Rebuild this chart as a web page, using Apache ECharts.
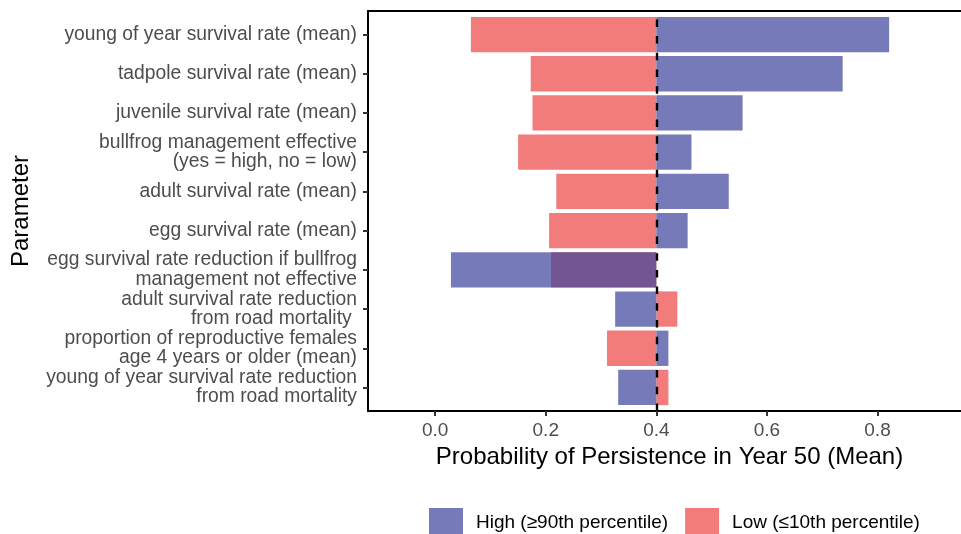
<!DOCTYPE html>
<html>
<head>
<meta charset="utf-8">
<script src="https://cdn.jsdelivr.net/npm/echarts@6/dist/echarts.min.js"></script>
<style>
html,body{margin:0;padding:0;background:#fff;}
#chart{width:961px;height:534px;}
</style>
</head>
<body>
<div id="chart"></div>
<script>
// ---- data ----
const categories = [
  'young of year survival rate (mean)',
  'tadpole survival rate (mean)',
  'juvenile survival rate (mean)',
  'bullfrog management effective\n(yes = high, no = low)',
  'adult survival rate (mean)',
  'egg survival rate (mean)',
  'egg survival rate reduction if bullfrog\nmanagement not effective',
  'adult survival rate reduction\nfrom road mortality ',
  'proportion of reproductive females\nage 4 years or older (mean)',
  'young of year survival rate reduction\nfrom road mortality'
];
const highValues = [0.821, 0.737, 0.556, 0.4635, 0.531, 0.4566, 0.0285, 0.3255, 0.4218, 0.331];
const lowValues  = [0.0646, 0.1728, 0.176, 0.150, 0.219, 0.206, 0.2096, 0.438, 0.3108, 0.4218];
const baseline = 0.4;
const xTicks = [0, 0.2, 0.4, 0.6, 0.8];
const seriesNames = ['High (\u226590th percentile)', 'Low (\u226410th percentile)'];

const rowPositions = categories.map((c, i) => i + 1);

function renderBar(params, api) {
  const v = api.value(0);
  const y = api.value(1);
  const p0 = api.coord([baseline, y]);
  const p1 = api.coord([v, y]);
  const h = api.size([0, 1])[1] * 0.9;
  return {
    type: 'rect',
    shape: {
      x: Math.min(p0[0], p1[0]),
      y: p0[1] - h / 2,
      width: Math.abs(p1[0] - p0[0]),
      height: h
    },
    style: api.style()
  };
}

const chart = echarts.init(document.getElementById('chart'), null, {renderer: 'canvas'});
const font = 'Liberation Sans, Arial, Helvetica, sans-serif';

const option = {
  animation: false,
  backgroundColor: '#ffffff',
  textStyle: {fontFamily: font},
  grid: {left: 368, top: 11, right: 0, bottom: 123, containLabel: false},
  legend: {
    data: seriesNames,
    left: 424,
    top: 503,
    icon: 'rect',
    itemWidth: 34,
    itemHeight: 30,
    itemGap: 17,
    textStyle: {fontSize: 19, color: '#000', fontFamily: font, padding: [0, 0, 0, 8]}
  },
  xAxis: [{
    type: 'value',
    min: -0.1215,
    max: 0.951,
    name: 'Probability of Persistence in Year 50 (Mean)',
    nameLocation: 'middle',
    nameGap: 31,
    nameTextStyle: {fontSize: 24, color: '#000', fontFamily: font, padding: [0, 0, 0, 10]},
    axisLine: {show: true, onZero: false, lineStyle: {color: '#000', width: 2}},
    axisTick: {show: true, customValues: xTicks, length: 5, lineStyle: {color: '#333', width: 2}},
    axisLabel: {customValues: xTicks, fontSize: 19, color: '#4D4D4D', margin: 10, fontFamily: font,
      showMinLabel: true, showMaxLabel: true,
      formatter: v => v.toFixed(1)},
    splitLine: {show: false}
  }, {
    type: 'value',
    position: 'top',
    min: -0.1215,
    max: 0.951,
    axisLine: {show: true, onZero: false, lineStyle: {color: '#000', width: 2}},
    axisTick: {show: false},
    axisLabel: {show: false},
    splitLine: {show: false}
  }],
  yAxis: {
    type: 'value',
    inverse: true,
    min: 0.4,
    max: 10.6,
    name: 'Parameter',
    nameLocation: 'middle',
    nameRotate: 90,
    nameGap: 335,
    nameTextStyle: {fontSize: 24, color: '#000', fontFamily: font},
    axisLine: {show: true, onZero: false, lineStyle: {color: '#000', width: 2}},
    axisTick: {show: true, customValues: rowPositions, length: 5, lineStyle: {color: '#333', width: 2}},
    axisLabel: {customValues: rowPositions, fontSize: 19.3, lineHeight: 19.4, color: '#4D4D4D', margin: 11,
      fontFamily: font, align: 'right', showMinLabel: true, showMaxLabel: true, hideOverlap: false,
      formatter: v => categories[Math.round(v) - 1] || ''},
    splitLine: {show: false}
  },
  series: [{
    name: seriesNames[1],
    type: 'custom',
    renderItem: renderBar,
    encode: {x: 0, y: 1},
    itemStyle: {color: 'rgba(237,74,74,0.72)'},
    data: lowValues.map((v, i) => [v, rowPositions[i]]),
    z: 2
  }, {
    name: seriesNames[0],
    type: 'custom',
    renderItem: renderBar,
    encode: {x: 0, y: 1},
    itemStyle: {color: 'rgba(66,70,156,0.72)'},
    data: highValues.map((v, i) => [v, rowPositions[i]]),
    z: 3,
    markLine: {
      silent: true,
      symbol: 'none',
      label: {show: false},
      lineStyle: {color: '#000', type: [7.5, 9.2], width: 2.4},
      data: [[{coord: [baseline, 10.6]}, {coord: [baseline, 0.4]}]],
      z: 10
    }
  }]
};
chart.setOption(option);
</script>
</body>
</html>
